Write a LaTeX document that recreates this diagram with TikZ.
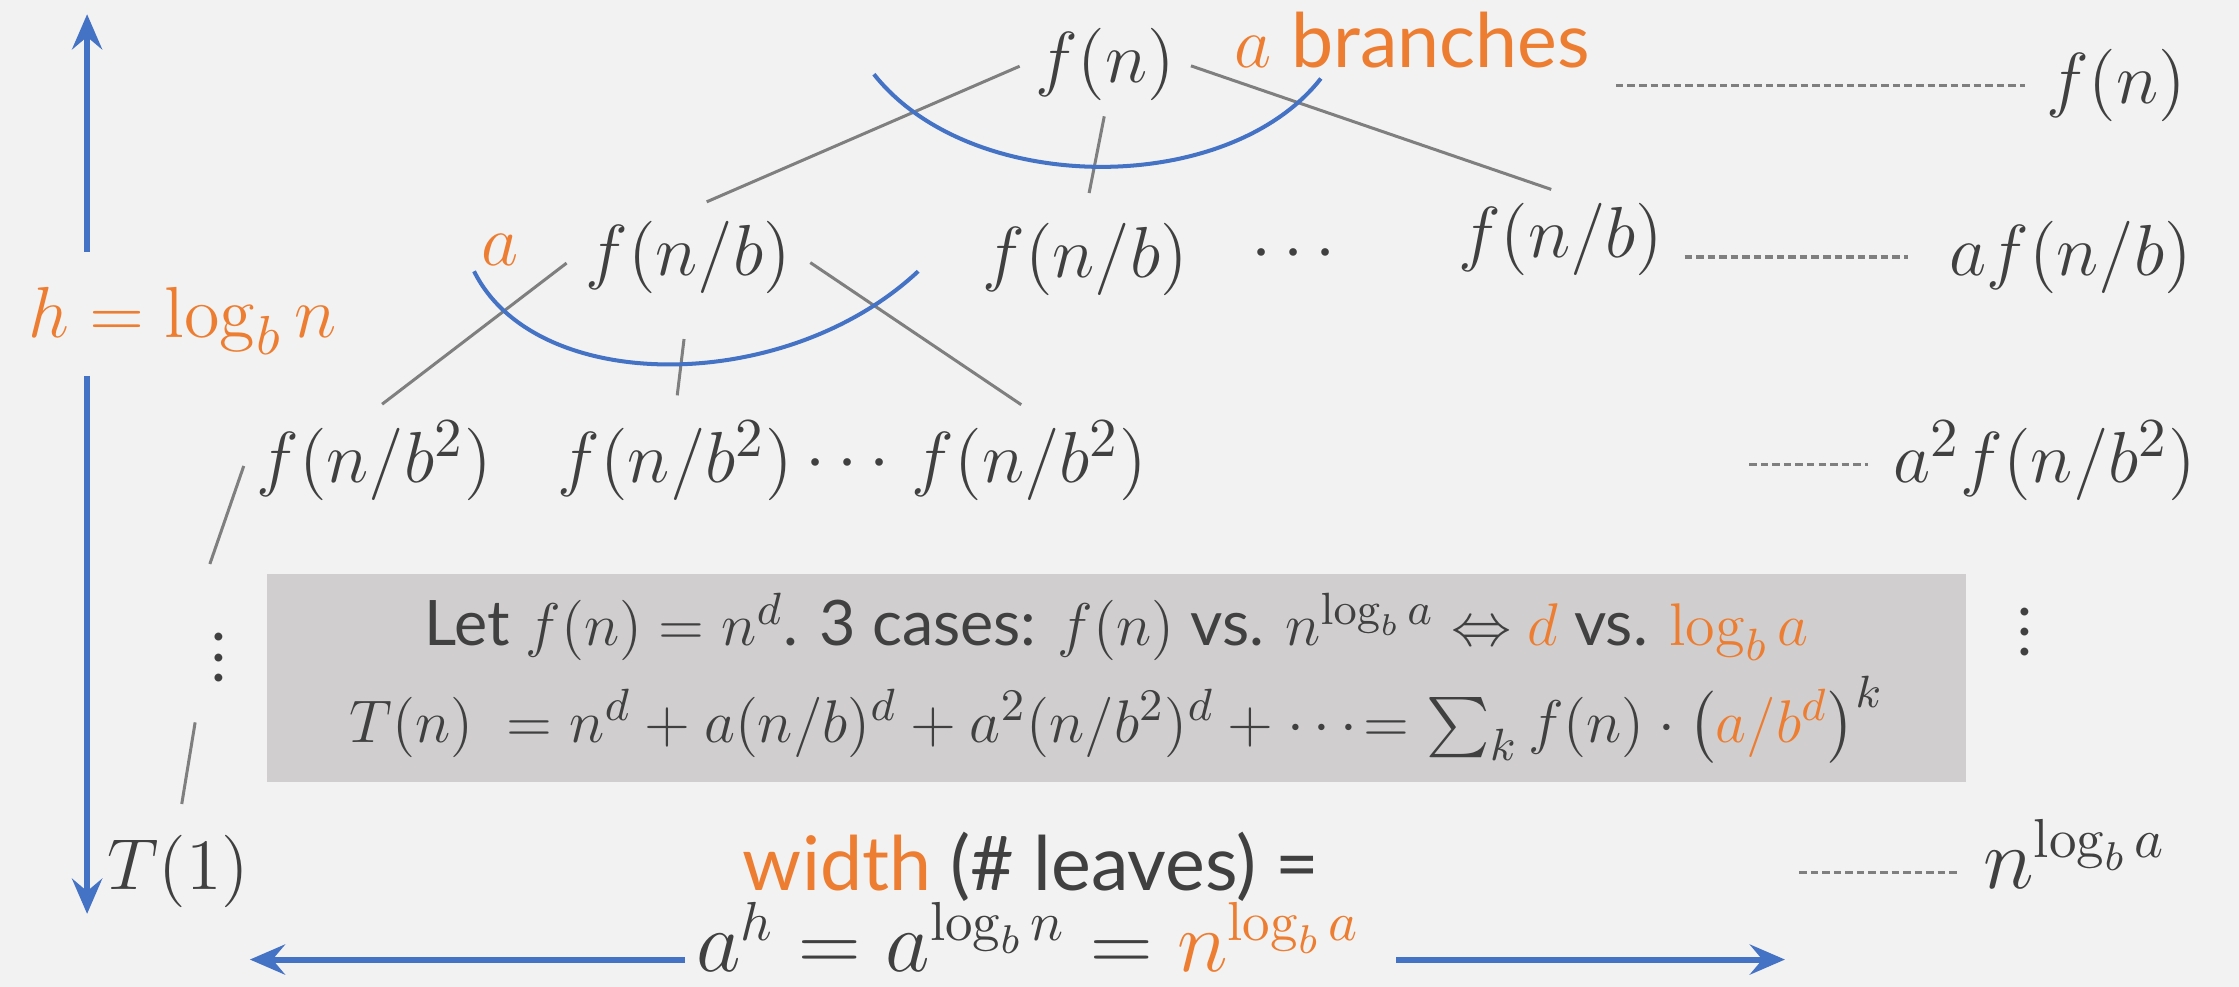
\documentclass[tikz,border=0pt]{standalone}
\usepackage[no-math]{fontspec}
\setmainfont{Lato}
\usepackage{amsmath}
\usetikzlibrary{arrows.meta}

\definecolor{bggray}{HTML}{F2F2F2}
\definecolor{boxgray}{HTML}{D0CECE}
\definecolor{dgray}{HTML}{404040}
\definecolor{lgray}{HTML}{7F7F7F}
\definecolor{orng}{HTML}{ED7D31}
\definecolor{bblue}{HTML}{4472C4}

\newcommand{\treefont}{\fontsize{15}{18}\selectfont}
\newcommand{\boxfont}{\fontsize{12.5}{15}\selectfont}

\tikzset{
  lbl/.style={text=dgray, font=\treefont, inner sep=2pt},
  tree/.style={draw=lgray, line width=0.6pt},
  fan/.style={draw=bblue, line width=0.8pt},
  dotline/.style={draw=lgray, line width=0.6pt, dash pattern=on 1.5pt off 0.8pt},
  harrow/.style={draw=bblue, line width=1.2pt, -{Stealth[length=7pt,width=6pt,inset=2.5pt]}},
}

\begin{document}
\begin{tikzpicture}
  \fill[bggray] (0,0) rectangle (15.68,6.91);
  \useasboundingbox (0,0) rectangle (15.68,6.91);

  % recursion tree
  \node[lbl] (root) at (7.74,6.46) {$f(n)$};
  \node[lbl, text=orng] (abr) at (9.89,6.63) {$a$ branches};
  \node[lbl, text=orng] (al) at (3.50,5.16) {$a$};
  \node[lbl] (l1a) at (4.82,5.11) {$f(n/b)$};
  \node[lbl] (l1b) at (7.60,5.09) {$f(n/b)$};
  \node[lbl] (cd1) at (9.10,5.13) {$\cdots$};
  \node[lbl] (l1c) at (10.93,5.23) {$f(n/b)$};
  \node[lbl] (l2a) at (2.62,3.68) {$f(n/b^2)$};
  \node[lbl] (l2b) at (4.73,3.68) {$f(n/b^2)$};
  \node[lbl] (cd2) at (5.98,3.66) {$\cdots$};
  \node[lbl] (l2c) at (7.21,3.68) {$f(n/b^2)$};
  \node[lbl, font=\boxfont] (vdl) at (1.53,2.41) {$\vdots$};
  \node[lbl] (t1) at (1.25,0.81) {$T(1)$};

  % cost per level
  \node[lbl] (rf) at (14.82,6.31) {$f(n)$};
  \node[lbl] (r1) at (14.50,5.11) {$af(n/b)$};
  \node[lbl] (r2) at (14.32,3.68) {$a^2f(n/b^2)$};
  \node[lbl, font=\boxfont] (vdr) at (14.18,2.59) {$\vdots$};
  \node[lbl, font=\fontsize{16}{19}\selectfont] (r3) at (14.53,0.93) {$n^{\log_b a}$};

  % height and width
  \node[lbl, text=orng] (hl) at (1.28,4.66) {$h = \log_b n$};
  \node[lbl] (wtx) at (7.22,0.84) {\textcolor{orng}{width} (\# leaves) =};
  \node[lbl, font=\fontsize{16}{19}\selectfont] (wf) at (7.20,0.35) {$a^h = a^{\log_b n} = {\color{orng}n^{\log_b a}}$};

  \node[fill=boxgray, text=dgray, font=\boxfont, align=center,
        minimum width=11.9cm, minimum height=1.46cm] (summ) at (7.82,2.16)
    {Let $f(n)=n^d$. 3 cases: $f(n)$ vs. $n^{\log_b a}\Leftrightarrow$
     {\color{orng}$d$} vs. {\color{orng}$\log_b a$}\\[2pt]
     {\fontsize{13}{16}\selectfont
     $T(n)\;= n^d + a(n/b)^d + a^2(n/b^2)^d + \cdots\!= \sum_k f(n)\cdot\bigl({\color{orng}a/b^d}\bigr)^k$}};

  \draw[tree, shorten <=1pt, shorten >=4pt] (root.west) -- (l1a.north);
  \draw[tree, shorten <=1pt, shorten >=4pt] (root.south) -- (l1b.north);
  \draw[tree, shorten <=1pt, shorten >=2pt] (root.east) -- (l1c.north);
  \draw[tree, shorten <=2pt, shorten >=2pt] (l1a.west) -- (l2a.north);
  \draw[tree, shorten <=7pt, shorten >=3pt] (l1a.south) -- (l2b.north);
  \draw[tree, shorten <=2pt, shorten >=2pt] (l1a.east) -- (l2c.north);
  \draw[tree, shorten <=1pt, shorten >=6pt] (l2a.west) -- (vdl.north west);
  \draw[tree, shorten <=6pt, shorten >=4pt] (vdl.south west) -- (t1.north);

  \draw[fan] (6.12,6.39) .. controls (6.80,5.53) and (8.60,5.53) .. (9.25,6.36);
  \draw[fan] (3.32,5.01) .. controls (3.75,4.14) and (5.50,4.14) .. (6.43,5.01);

  \coordinate (d2s) at (12.25,3.66);
  \coordinate (d3s) at (12.60,0.80);
  \draw[dotline, shorten <=3pt, shorten >=2pt] (abr.east |- rf.west) -- (rf.west);
  \draw[dotline, shorten <=2pt, shorten >=6pt] (l1c.east |- r1.west) -- (r1.west);
  \draw[dotline, shorten >=3pt] (d2s) -- (d2s -| r2.west);
  \draw[dotline, shorten >=3pt] (d3s) -- (d3s -| r3.west);

  \coordinate (htop) at (0.61,6.81);
  \coordinate (hbot) at (0.61,0.51);
  \coordinate (wl) at (1.75,0.19);
  \coordinate (wr) at (12.50,0.19);
  \draw[harrow, shorten <=5pt] (hl.north -| htop) -- (htop);
  \draw[harrow, shorten <=2pt] (hl.south -| hbot) -- (hbot);
  \draw[harrow] (wf.west |- wl) -- (wl);
  \draw[harrow, shorten <=5pt] (wf.east |- wr) -- (wr);
\end{tikzpicture}
\end{document}
